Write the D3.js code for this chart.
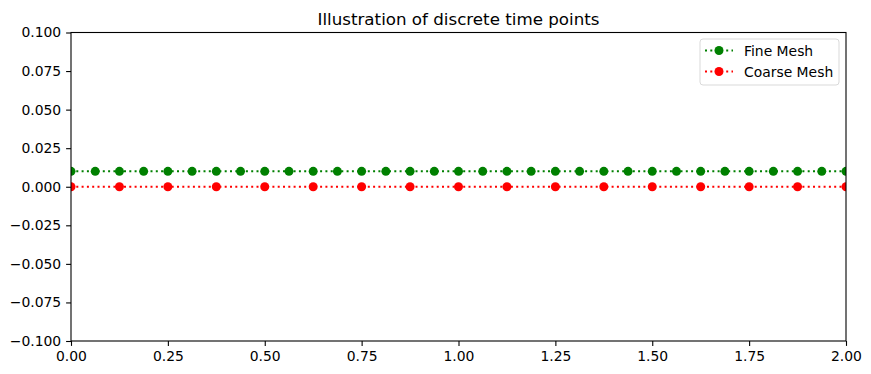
<!DOCTYPE html>
<html>
<head>
<meta charset="utf-8">
<script src="https://cdn.jsdelivr.net/npm/d3@7"></script>
<style>
  body { margin: 0; background: #fff; }
  svg { font-family: "DejaVu Sans", sans-serif; }
</style>
</head>
<body>
<div id="chart"></div>
<script>
// time points
var fineX = [0, 0.0625, 0.125, 0.1875, 0.25, 0.3125, 0.375, 0.4375, 0.5, 0.5625, 0.625, 0.6875,
  0.75, 0.8125, 0.875, 0.9375, 1, 1.0625, 1.125, 1.1875, 1.25, 1.3125, 1.375, 1.4375,
  1.5, 1.5625, 1.625, 1.6875, 1.75, 1.8125, 1.875, 1.9375, 2];
var fineY = [0.01, 0.01, 0.01, 0.01, 0.01, 0.01, 0.01, 0.01, 0.01, 0.01, 0.01, 0.01,
  0.01, 0.01, 0.01, 0.01, 0.01, 0.01, 0.01, 0.01, 0.01, 0.01, 0.01, 0.01,
  0.01, 0.01, 0.01, 0.01, 0.01, 0.01, 0.01, 0.01, 0.01];
var coarseX = [0, 0.125, 0.25, 0.375, 0.5, 0.625, 0.75, 0.875, 1, 1.125, 1.25, 1.375,
  1.5, 1.625, 1.75, 1.875, 2];
var coarseY = [0, 0, 0, 0, 0, 0, 0, 0, 0, 0, 0, 0, 0, 0, 0, 0, 0];
var xTicks = [0, 0.25, 0.5, 0.75, 1, 1.25, 1.5, 1.75, 2];
var yTicks = [-0.1, -0.075, -0.05, -0.025, 0, 0.025, 0.05, 0.075, 0.1];
var seriesNames = ['Fine Mesh', 'Coarse Mesh'];

var width = 871, height = 374;
var margin = {left: 71, right: 25, top: 32.5, bottom: 33};

var svg = d3.select('#chart').append('svg')
    .attr('width', width)
    .attr('height', height);

var x = d3.scaleLinear().domain([0, 2]).range([margin.left, width - margin.right]);
var y = d3.scaleLinear().domain([-0.1, 0.1]).range([height - margin.bottom, margin.top]);

svg.append('defs').append('clipPath').attr('id', 'clip')
  .append('rect')
    .attr('x', margin.left).attr('y', margin.top)
    .attr('width', x(2) - x(0)).attr('height', y(-0.1) - y(0.1));

var series = [
  {name: seriesNames[0], xs: fineX, ys: fineY, color: '#008000'},
  {name: seriesNames[1], xs: coarseX, ys: coarseY, color: '#ff0000'}
];

var line = d3.line()
    .x(function(d) { return x(d[0]); })
    .y(function(d) { return y(d[1]); });

var plot = svg.append('g').attr('clip-path', 'url(#clip)');

series.forEach(function(s) {
  var pts = s.xs.map(function(v, i) { return [v, s.ys[i]]; });
  plot.append('path')
      .datum(pts)
      .attr('d', line)
      .attr('fill', 'none')
      .attr('stroke', s.color)
      .attr('stroke-width', 2)
      .attr('stroke-dasharray', '2,3.3');
  plot.selectAll(null)
      .data(pts)
      .enter().append('circle')
      .attr('cx', function(d) { return x(d[0]); })
      .attr('cy', function(d) { return y(d[1]); })
      .attr('r', 4.5)
      .attr('fill', s.color);
});

// axes
var xAxis = svg.append('g')
    .attr('transform', 'translate(0,' + y(-0.1) + ')')
    .call(d3.axisBottom(x).tickValues(xTicks).tickFormat(d3.format('.2f')).tickSizeOuter(0).tickSize(4.9).tickPadding(4.9));
var yAxis = svg.append('g')
    .attr('transform', 'translate(' + x(0) + ',0)')
    .call(d3.axisLeft(y).tickValues(yTicks).tickFormat(function(d) { return d3.format('.3f')(d).replace('-', '\u2212'); }).tickSizeOuter(0).tickSize(4.9).tickPadding(4.9));

[xAxis, yAxis].forEach(function(a) {
  a.select('.domain').remove();
  a.selectAll('line').attr('stroke', '#000').attr('stroke-width', 1.1);
  a.selectAll('text').attr('font-size', '13.9px').attr('fill', '#000')
    .attr('font-family', '"DejaVu Sans", sans-serif');
});

svg.append('rect')
    .attr('x', x(0)).attr('y', y(0.1))
    .attr('width', x(2) - x(0)).attr('height', y(-0.1) - y(0.1))
    .attr('fill', 'none').attr('stroke', '#000').attr('stroke-width', 1.1);

svg.append('text')
    .attr('x', (x(0) + x(2)) / 2)
    .attr('y', y(0.1) - 8)
    .attr('text-anchor', 'middle')
    .attr('font-size', '16.7px')
    .text('Illustration of discrete time points');

// legend
var lg = svg.append('g').attr('transform', 'translate(700,39)');
lg.append('rect')
    .attr('width', 139).attr('height', 46).attr('rx', 3)
    .attr('fill', '#fff').attr('fill-opacity', 0.8)
    .attr('stroke', '#d9d9d9').attr('stroke-width', 1);
series.forEach(function(s, i) {
  var gy = 11.5 + i * 21;
  lg.append('line')
      .attr('x1', 5).attr('x2', 33).attr('y1', gy).attr('y2', gy)
      .attr('stroke', s.color).attr('stroke-width', 2).attr('stroke-dasharray', '2,3.3');
  lg.append('circle').attr('cx', 19).attr('cy', gy).attr('r', 4.5).attr('fill', s.color);
  lg.append('text')
      .attr('x', 44).attr('y', gy + 5)
      .attr('font-size', '13.9px')
      .text(s.name);
});
</script>
</body>
</html>
